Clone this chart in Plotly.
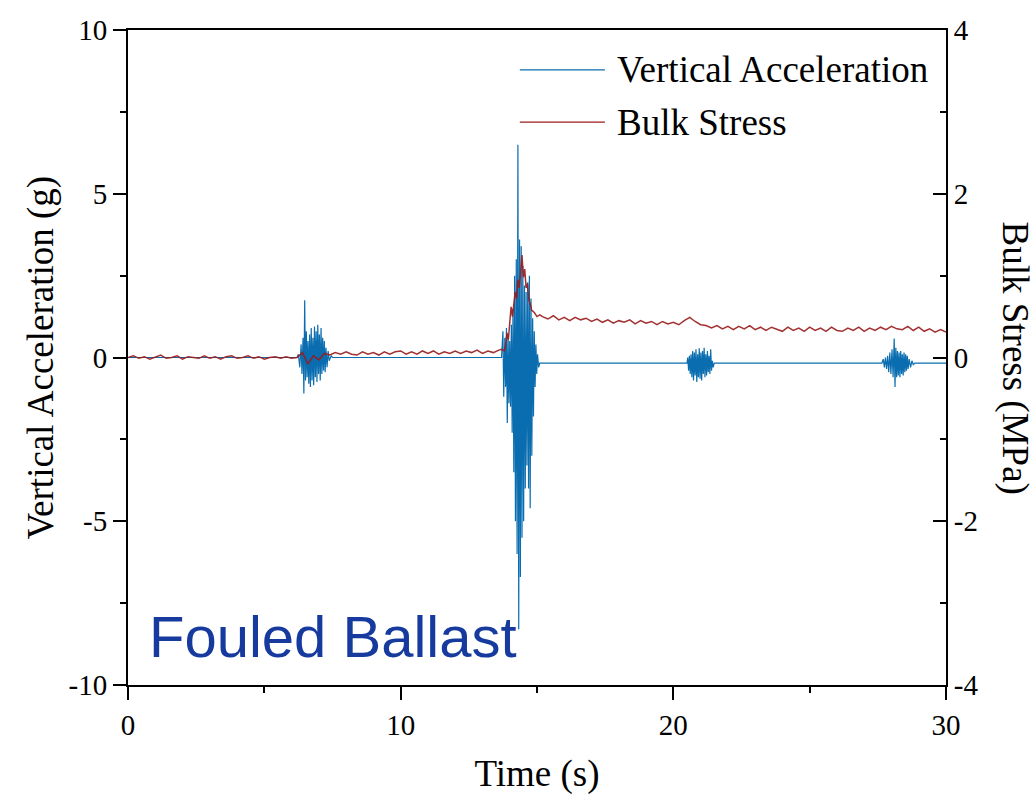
import numpy as np
import plotly.graph_objects as go

# ---------------- data ----------------
# Vertical acceleration (g): quiet stretches + four bursts
acc_t_quiet1 = [0.0, 2.0, 4.0, 6.2]
acc_v_quiet1 = [0.0, 0.0, 0.0, 0.0]

acc_t_b1 = [6.25, 6.30, 6.35, 6.38, 6.42, 6.45, 6.48, 6.51, 6.54, 6.57, 6.60, 6.63, 6.66, 6.69,
            6.72, 6.75, 6.78, 6.81, 6.84, 6.87, 6.90, 6.93, 6.96, 6.99, 7.02, 7.05, 7.08, 7.11,
            7.14, 7.17, 7.20, 7.23, 7.26, 7.30, 7.34, 7.38, 7.45, 7.50]
acc_v_b1 = [0.1, -0.3, 0.4, -0.5, 0.6, -1.1, 1.75, -0.7, 0.8, -0.6, 0.5, -0.8, 0.7, -0.9,
            0.9, -0.7, 0.6, -0.85, 0.95, -0.6, 0.8, -0.75, 1.0, -0.5, 0.7, -0.7, 0.9, -0.5,
            0.6, -0.4, 0.5, -0.45, 0.3, -0.3, 0.2, -0.1, 0.05, 0.0]

acc_t_quiet2 = [9.0, 11.0, 13.65]
acc_v_quiet2 = [0.0, 0.0, 0.0]

acc_t_b2 = [13.70, 13.75, 13.78, 13.82, 13.85, 13.88, 13.91, 13.94, 13.97, 14.00, 14.03, 14.06,
            14.09, 14.12, 14.15, 14.18, 14.21, 14.24, 14.27, 14.30, 14.33, 14.36, 14.39, 14.42,
            14.45, 14.48, 14.51, 14.54, 14.57, 14.60, 14.63, 14.66, 14.69, 14.72, 14.75, 14.78,
            14.81, 14.84, 14.87, 14.90, 14.93, 14.96, 14.99, 15.02, 15.06, 15.10]
acc_v_b2 = [0.0, 0.8, -1.2, 0.6, -0.9, 0.9, -2.0, 0.7, -1.4, 0.5, -1.5, 1.0,
            -2.3, 1.5, -3.5, 2.5, -5.0, 3.0, -6.0, 6.5, -8.3, 3.6, -6.7, 3.4,
            -5.5, 2.8, -5.0, 2.2, -4.0, 2.0, -3.3, 2.3, -4.0, 2.5, -4.6, 1.8,
            -3.0, 1.2, -1.8, 0.8, -0.9, 0.4, -0.5, 0.1, -0.3, -0.17]

acc_t_quiet3 = [17.0, 19.0, 20.45]
acc_v_quiet3 = [-0.17, -0.17, -0.17]

acc_t_b3 = [20.50, 20.53, 20.56, 20.59, 20.62, 20.65, 20.68, 20.71, 20.74, 20.77, 20.80, 20.83,
            20.86, 20.89, 20.92, 20.95, 20.98, 21.01, 21.04, 21.07, 21.10, 21.13, 21.16, 21.19,
            21.22, 21.25, 21.28, 21.31, 21.34, 21.37, 21.40, 21.43, 21.46, 21.50]
acc_v_b3 = [-0.17, 0.0, -0.4, 0.05, -0.5, 0.1, -0.6, 0.2, -0.7, 0.15, -0.55, 0.25,
            -0.75, 0.1, -0.6, 0.28, -0.65, 0.15, -0.7, 0.2, -0.5, 0.3, -0.6, 0.1,
            -0.55, 0.2, -0.45, 0.05, -0.5, 0.25, -0.4, -0.1, -0.3, -0.17]

acc_t_quiet4 = [23.0, 25.5, 27.6]
acc_v_quiet4 = [-0.17, -0.17, -0.17]

acc_t_b4 = [27.65, 27.70, 27.74, 27.78, 27.82, 27.86, 27.90, 27.94, 27.98, 28.02, 28.06, 28.10,
            28.13, 28.16, 28.19, 28.22, 28.25, 28.28, 28.31, 28.34, 28.37, 28.40, 28.43, 28.46,
            28.49, 28.52, 28.55, 28.58, 28.61, 28.65, 28.70, 28.75, 28.80, 28.86]
acc_v_b4 = [-0.17, -0.05, -0.3, 0.0, -0.35, 0.05, -0.45, 0.15, -0.5, 0.25, -0.6, 0.58,
            -0.9, 0.3, -0.6, 0.2, -0.55, 0.15, -0.6, 0.2, -0.5, 0.1, -0.55, 0.15,
            -0.45, 0.1, -0.4, 0.05, -0.35, -0.05, -0.3, -0.1, -0.22, -0.17]

acc_t_quiet5 = [29.5, 30.0]
acc_v_quiet5 = [-0.17, -0.17]

# Bulk stress (MPa)
stress_vA = [0.00, 0.02, -0.01, 0.01, -0.02, 0.01, 0.03, -0.01, 0.00, 0.02,
             -0.02, 0.01, 0.00, -0.01, 0.02, -0.01, 0.01, -0.02, 0.01, 0.02,
             -0.01, 0.00, 0.02, -0.01, 0.01, -0.02, 0.00, 0.01, -0.01, 0.01,
             -0.01, 0.00, 0.06, -0.08, 0.02, -0.03, 0.05, 0.03, 0.06, 0.04,
             0.07, 0.04, 0.03, 0.07, 0.04, 0.06, 0.03, 0.07, 0.04, 0.07,
             0.08, 0.04, 0.07, 0.04, 0.08, 0.05, 0.08, 0.04, 0.07, 0.05,
             0.08, 0.05, 0.08, 0.06, 0.09, 0.05, 0.08, 0.06, 0.09]
stress_tA = np.linspace(0.0, 13.6, len(stress_vA))

stress_tB = [13.7, 13.8, 13.85, 13.9, 13.95, 14.0, 14.05, 14.1, 14.15, 14.2, 14.25, 14.3, 14.35,
             14.4, 14.45, 14.5, 14.55, 14.6, 14.65, 14.7, 14.75, 14.8, 14.9, 15.0, 15.1]
stress_vB = [0.10, 0.08, 0.15, 0.30, 0.22, 0.42, 0.62, 0.50, 0.70, 0.80, 0.72, 0.95, 0.85,
             1.10, 1.25, 0.98, 1.08, 0.85, 0.90, 0.70, 0.66, 0.58, 0.55, 0.50, 0.52]

stress_vC = [0.50, 0.47, 0.51, 0.46, 0.49, 0.45, 0.49, 0.46, 0.48, 0.44,
             0.47, 0.43, 0.46, 0.42, 0.45, 0.43, 0.46, 0.41, 0.45, 0.42,
             0.44, 0.40, 0.44, 0.41, 0.43, 0.40, 0.45, 0.49, 0.44, 0.40,
             0.39, 0.36, 0.39, 0.35, 0.38, 0.34, 0.38, 0.35, 0.39, 0.34,
             0.37, 0.33, 0.37, 0.34, 0.32, 0.37, 0.33, 0.36, 0.32, 0.37,
             0.33, 0.36, 0.32, 0.37, 0.33, 0.32, 0.36, 0.33, 0.37, 0.32,
             0.36, 0.33, 0.37, 0.34, 0.38, 0.35, 0.34, 0.38, 0.33, 0.37,
             0.32, 0.35, 0.31, 0.34, 0.31]
stress_tC = np.linspace(15.2, 30.0, len(stress_vC))

x_ticks = [0, 10, 20, 30]
y_ticks = [-10, -5, 0, 5, 10]
y_ticklabels = ["-10", "-5", "0", "5", "10"]
y2_ticks = [-4, -2, 0, 2, 4]
y2_ticklabels = ["-4", "-2", "0", "2", "4"]

# ---------------- assemble ----------------
acc_t = (acc_t_quiet1 + acc_t_b1 + acc_t_quiet2 + acc_t_b2 + acc_t_quiet3 + acc_t_b3
         + acc_t_quiet4 + acc_t_b4 + acc_t_quiet5)
acc_v = (acc_v_quiet1 + acc_v_b1 + acc_v_quiet2 + acc_v_b2 + acc_v_quiet3 + acc_v_b3
         + acc_v_quiet4 + acc_v_b4 + acc_v_quiet5)
stress_t = list(stress_tA) + stress_tB + list(stress_tC)
stress_v = stress_vA + stress_vB + stress_vC

BLUE = "#0A6DB0"
RED = "#9A1B1B"
SERIF = "Liberation Serif"

fig = go.Figure()
fig.add_trace(go.Scatter(x=acc_t, y=acc_v, mode="lines", name="Vertical Acceleration",
                         line=dict(color=BLUE, width=1.2), yaxis="y", showlegend=False))
fig.add_trace(go.Scatter(x=stress_t, y=stress_v, mode="lines", name="Bulk Stress",
                         line=dict(color=RED, width=1.5), opacity=0.9, yaxis="y2",
                         showlegend=False))

axis_common = dict(showgrid=False, zeroline=False, showline=True, linecolor="black",
                   linewidth=2, tickcolor="black", tickwidth=2,
                   tickfont=dict(family=SERIF, size=29, color="black"))

fig.update_layout(
    width=1035, height=801,
    margin=dict(l=128, r=89, t=30, b=116),
    paper_bgcolor="white", plot_bgcolor="white",
    xaxis=dict(range=[0, 30], tickmode="array", tickvals=x_ticks, ticks="outside", ticklen=13,
               mirror=True, minor=dict(ticks="outside", ticklen=6, dtick=5, tickcolor="black",
                                       tickwidth=2),
               title=dict(text="Time (s)", font=dict(family=SERIF, size=37, color="black"),
                          standoff=20),
               **axis_common),
    yaxis=dict(range=[-10, 10], tickmode="array", tickvals=y_ticks, ticktext=y_ticklabels,
               ticks="outside", ticklen=13, mirror=True,
               minor=dict(ticks="outside", ticklen=6, dtick=2.5, tickcolor="black", tickwidth=2),
               **axis_common),
    yaxis2=dict(range=[-4, 4], tickmode="array", tickvals=y2_ticks, ticktext=y2_ticklabels,
                ticks="inside", ticklen=13, overlaying="y", side="right",
                minor=dict(ticks="inside", ticklen=6, dtick=1, tickcolor="black", tickwidth=2),
                **axis_common),
    showlegend=False,
)

# axis titles
fig.add_annotation(text="Vertical Acceleration (g)", xref="paper", yref="paper", x=0, y=0.5,
                   xshift=-88, xanchor="center", yanchor="middle", textangle=-90,
                   showarrow=False, font=dict(family=SERIF, size=37, color="black"))
fig.add_annotation(text="Bulk Stress (MPa)", xref="paper", yref="paper", x=1, y=0.5,
                   xshift=69, xanchor="center", yanchor="middle", textangle=90,
                   showarrow=False, font=dict(family=SERIF, size=37, color="black"))

# panel label
fig.add_annotation(text="Fouled Ballast", xref="paper", yref="paper", x=0.023, y=0.0,
                   yshift=14, xanchor="left", yanchor="bottom", showarrow=False,
                   font=dict(family="Liberation Sans", size=58, color="#163A9E"))

# legend (drawn manually for long line samples)
leg_items = [("Vertical Acceleration", BLUE, 0.939), ("Bulk Stress", RED, 0.8595)]
for label, col, yy in leg_items:
    fig.add_shape(type="line", xref="paper", yref="paper", x0=0.479, x1=0.583, y0=yy, y1=yy,
                  line=dict(color=col, width=1.3))
    fig.add_annotation(text=label, xref="paper", yref="paper", x=0.595, y=yy, xanchor="left",
                       yanchor="middle", showarrow=False,
                       font=dict(family=SERIF, size=37, color="black"))

fig.write_html("out.html")
